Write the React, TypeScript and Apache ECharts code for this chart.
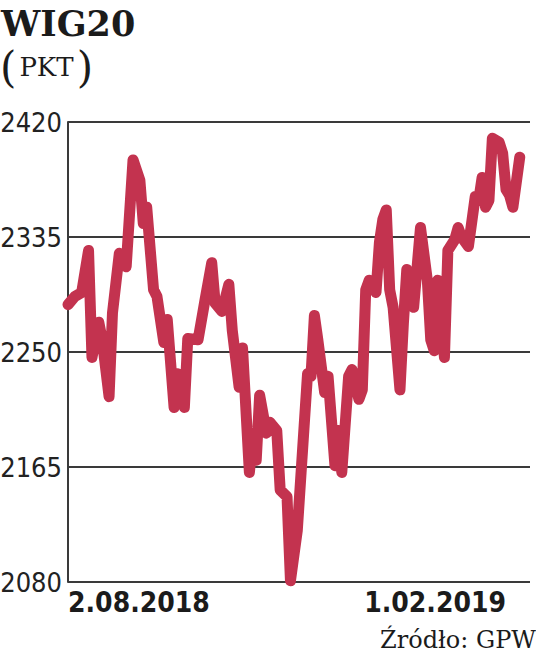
import { useEffect, useRef } from 'react';
import * as echarts from 'echarts';

// trading-day index (from 2.08.2018) and WIG20 close values
const dayIndex = [
  0, 2, 4, 6, 7, 9, 10, 12, 13, 15, 17, 19, 21, 22, 23, 25, 26, 28, 29, 31,
  32, 34, 35, 38, 40, 42, 43, 45, 47, 48, 50, 51, 53, 54, 55, 56, 58, 59, 61, 62,
  64, 65, 67, 70, 71, 72, 73, 75, 76, 78, 79, 80, 82, 83, 85, 86, 87, 88, 90, 91,
  92, 93, 94, 95, 97, 98, 99, 100, 101, 103, 105, 106, 107, 108, 110, 111, 113, 114, 115, 117,
  119, 120, 121, 122, 123, 124, 126, 127, 128, 129, 130, 132,
];
const wig20 = [
  2285, 2291, 2294, 2325, 2246, 2272, 2259, 2217, 2279, 2323, 2313, 2392, 2377, 2345, 2357, 2296, 2291, 2257, 2274, 2209,
  2234, 2209, 2260, 2259, 2288, 2316, 2286, 2280, 2300, 2266, 2224, 2253, 2161, 2187, 2170, 2218, 2190, 2198, 2192, 2148,
  2143, 2081, 2118, 2234, 2232, 2277, 2259, 2220, 2232, 2166, 2192, 2161, 2232, 2237, 2215, 2222, 2296, 2303, 2294, 2331,
  2348, 2355, 2296, 2283, 2222, 2271, 2311, 2296, 2283, 2342, 2303, 2259, 2251, 2303, 2246, 2325, 2333, 2342, 2335, 2328,
  2365, 2362, 2379, 2357, 2362, 2408, 2405, 2397, 2370, 2366, 2357, 2394,
];
const yTicks = [2080, 2165, 2250, 2335, 2420];
const xLabelDays = [0, 128];
const xLabelTexts = ['2.08.2018', '1.02.2019'];
const titleText = 'WIG20';
const unitText = 'PKT';
const sourceText = 'Źródło: GPW';

const NARROW = '"DejaVu Sans Condensed", "Liberation Sans Narrow", Roboto, sans-serif';
const SERIF = '"DejaVu Serif", "Liberation Serif", serif';

export default function App() {
  const ref = useRef<HTMLDivElement>(null);
  useEffect(() => {
    const chart = echarts.init(ref.current as HTMLDivElement, null, { renderer: 'svg' });
    const seriesData = dayIndex.map((d, i) => [d, wig20[i]]);
    const xAxisBase = {
      type: 'value',
      min: 0,
      max: 135,
      position: 'bottom',
      axisLine: { show: false },
      axisTick: { show: false },
      splitLine: { show: false },
    };
    const xLabelStyle = {
      margin: 6,
      fontSize: 28,
      fontWeight: 'bold',
      fontFamily: NARROW,
      color: '#1b1b1b',
    };
    chart.setOption({
      animation: false,
      grid: { left: 68, right: 6, top: 122, bottom: 80, containLabel: false, outerBoundsMode: 'none' },
      xAxis: [
        {
          ...xAxisBase,
          axisLabel: {
            ...xLabelStyle,
            customValues: [xLabelDays[0]],
            formatter: () => xLabelTexts[0],
            align: 'left',
          },
        },
        {
          ...xAxisBase,
          axisLabel: {
            ...xLabelStyle,
            customValues: [xLabelDays[1]],
            formatter: () => xLabelTexts[1],
            align: 'right',
          },
        },
      ],
      yAxis: {
        type: 'value',
        min: yTicks[0],
        max: yTicks[yTicks.length - 1],
        axisLine: { show: true, lineStyle: { color: '#3a3a3a', width: 2 } },
        axisTick: { show: false, customValues: yTicks },
        axisLabel: {
          customValues: yTicks,
          formatter: (v: number) => String(v),
          margin: 6,
          fontSize: 27,
          fontFamily: NARROW,
          color: '#222',
        },
        splitLine: { show: true, lineStyle: { color: '#3a3a3a', width: 2 } },
      },
      series: [
        {
          type: 'line',
          data: seriesData,
          showSymbol: false,
          symbol: 'none',
          lineStyle: { color: '#c3334f', width: 11, cap: 'round', join: 'round' },
          z: 5,
        },
      ],
      graphic: [
        {
          type: 'text',
          left: 1,
          top: 6,
          style: {
            text: titleText,
            font: `bold 35px ${SERIF}`,
            fill: '#1b1b1b',
          },
        },
        {
          type: 'text',
          left: 0,
          top: 46,
          style: {
            text: `{p|(}{t|${unitText}}{p|)}`,
            rich: {
              p: { fontSize: 42, fontFamily: SERIF, fill: '#1b1b1b', verticalAlign: 'middle' },
              t: { fontSize: 26, fontFamily: SERIF, fill: '#1b1b1b', verticalAlign: 'middle', padding: [0, 3, 0, 3] },
            },
          },
        },
        {
          type: 'text',
          right: 0,
          top: 628,
          style: {
            text: sourceText,
            font: `24px ${SERIF}`,
            fill: '#1b1b1b',
          },
        },
      ],
    });
    return () => chart.dispose();
  }, []);
  return <div ref={ref} style={{ position: 'absolute', left: 0, top: 0, width: 536, height: 662 }} />;
}
